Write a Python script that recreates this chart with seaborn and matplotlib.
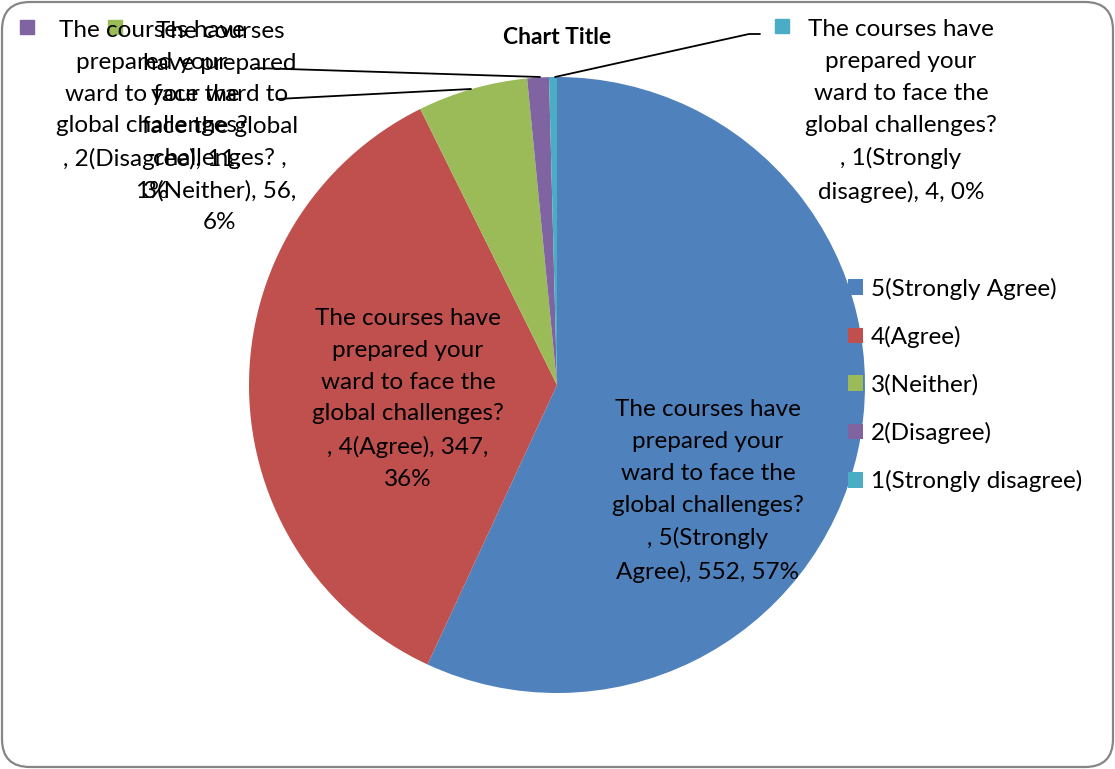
import matplotlib
matplotlib.use("Agg")
import matplotlib.pyplot as plt
import seaborn as sns
from matplotlib.patches import FancyBboxPatch, Patch

# data
question = "The courses have prepared your ward to face the global challenges?"
categories = ["5(Strongly Agree)", "4(Agree)", "3(Neither)", "2(Disagree)", "1(Strongly disagree)"]
counts = [552, 347, 56, 11, 4]
colors = ["#4F81BD", "#C0504D", "#9BBB59", "#8064A2", "#4BACC6"]

# label text as Excel wraps it
label_texts = [
    "The courses have\nprepared your\nward to face the\nglobal challenges?\n, 5(Strongly\nAgree), 552, 57%",
    "The courses have\nprepared your\nward to face the\nglobal challenges?\n, 4(Agree), 347,\n36%",
    "The courses\nhave prepared\nyour ward to\nface the global\nchallenges? ,\n3(Neither), 56,\n6%",
    "The courses have\nprepared your\nward to face the\nglobal challenges?\n, 2(Disagree), 11,\n1%",
    "The courses have\nprepared your\nward to face the\nglobal challenges?\n, 1(Strongly\ndisagree), 4, 0%",
]

sns.set_theme(style="white")
plt.rcParams["font.family"] = ["Lato", "DejaVu Sans"]
plt.rcParams["text.color"] = "black"

W, H = 1115, 769
fig = plt.figure(figsize=(W / 100, H / 100), dpi=100)
ax = fig.add_axes([0, 0, 1, 1])


def py(y):
    # pixel row (from top) -> data y
    return H - y


cx, cy, r = 557, 385, 308
wedges, _ = ax.pie(counts, colors=colors, startangle=90, counterclock=False,
                   center=(cx, py(cy)), radius=r,
                   wedgeprops=dict(linewidth=0))
ax.set_xlim(0, W)
ax.set_ylim(0, H)
ax.axis("off")

fs = 17.5
# label centres (px) for each slice
label_pos = [(708, 491), (408, 399), (220, 127), (152, 111), (901, 111)]
for txt, (x, y) in zip(label_texts, label_pos):
    ax.text(x, py(y), txt, ha="center", va="center", multialignment="center",
            fontsize=fs, linespacing=1.63, color="black")

# legend keys shown with the outside labels
key_pos = {2: (115, 27), 3: (27, 27), 4: (782, 26)}
for i, (x, y) in key_pos.items():
    ax.plot(x, py(y), marker="s", markersize=10.5, color=colors[i], linestyle="none")

# leader lines
ax.plot([255, 540], [py(68), py(77)], color="black", lw=1.3)
ax.plot([277, 471], [py(99), py(89)], color="black", lw=1.3)
ax.plot([555, 749, 760], [py(77), py(34), py(34)], color="black", lw=1.3)

ax.text(557, py(37), "Chart Title", ha="center", va="center",
        fontsize=16.5, fontweight="bold", color="black")

handles = [Patch(facecolor=c, edgecolor="none", label=l) for c, l in zip(colors, categories)]
ax.legend(handles=handles, loc="center left", bbox_to_anchor=(848 / W, 1 - 385 / H),
          frameon=False, fontsize=fs, handlelength=0.6, handleheight=0.6,
          labelspacing=1.08, handletextpad=0.35, borderaxespad=0, borderpad=0,
          labelcolor="black")

border = FancyBboxPatch((2, 2), W - 4, H - 4,
                        boxstyle="round,pad=0,rounding_size=28",
                        facecolor="none", edgecolor="#868686", lw=1.6, clip_on=False)
ax.add_patch(border)

fig.savefig("out.png", dpi=100)
